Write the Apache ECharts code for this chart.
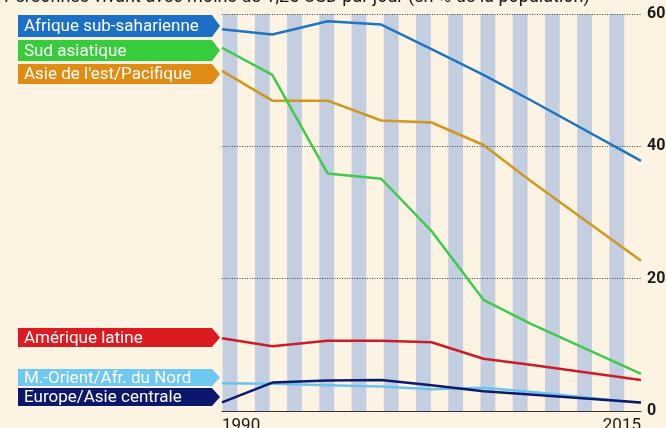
<!DOCTYPE html>
<html>
<head>
<meta charset="utf-8">
<script src="https://cdn.jsdelivr.net/npm/echarts@6.0.0/dist/echarts.min.js"></script>
<style>
  html, body { margin: 0; padding: 0; background: #fcf3e3; }
  #chart { width: 666px; height: 428px; }
</style>
</head>
<body>
<div id="chart"></div>
<script>
// years where the lines bend
const pointYears = [1990, 1993, 1996.3, 1999.5, 2002.5, 2005.6, 2008.4, 2015];

const afrique = [57.7, 56.9, 58.9, 58.4, 54.7, 50.8, 47.0, 37.8];
const sudAsie = [54.9, 50.8, 35.9, 35.1, 27.2, 16.8, 13.2, 5.6];
const asieEst = [51.4, 46.9, 46.9, 43.9, 43.6, 40.2, 34.8, 22.7];
const amerique = [11.0, 9.8, 10.6, 10.6, 10.4, 7.9, 7.0, 4.7];
const moyenOrient = [4.2, 4.1, 3.9, 3.7, 3.3, 3.5, 2.9, 1.2];
const europe = [1.3, 4.3, 4.6, 4.7, 3.9, 3.0, 2.5, 1.3];

// background year bands (one every other year)
const bandYears = ['1990', '1991', '1992', '1993', '1994', '1995', '1996', '1997', '1998',
  '1999', '2000', '2001', '2002', '2003', '2004', '2005', '2006', '2007', '2008', '2009',
  '2010', '2011', '2012', '2013', '2014', '2015'];
const bands = [60, '-', 60, '-', 60, '-', 60, '-', 60, '-', 60, '-', 60, '-',
  60, '-', 60, '-', 60, '-', 60, '-', 60, '-', 60, '-'];

const xTicks = [1990, 2015];

const chart = echarts.init(document.getElementById('chart'));

const pairs = vals => pointYears.map((y, i) => [y, vals[i]]);

const lineSeries = (name, vals, color) => ({
  name: name,
  type: 'line',
  data: pairs(vals),
  symbol: 'none',
  z: 3,
  lineStyle: { color: color, width: 2.5 },
  itemStyle: { color: color }
});

// tags on the left
const tags = [
  { text: 'Afrique sub-saharienne', color: '#1b6fc6', top: 15, h: 22 },
  { text: 'Sud asiatique', color: '#37cc3c', top: 40, h: 21 },
  { text: "Asie de l'est/Pacifique", color: '#e08b14', top: 64, h: 20 },
  { text: 'Amérique latine', color: '#dc1b20', top: 328, h: 19 },
  { text: 'M.-Orient/Afr. du Nord', color: '#6fc8f2', top: 369, h: 17 },
  { text: 'Europe/Asie centrale', color: '#0b176c', top: 388, h: 18 }
];

const graphics = [{
  type: 'text',
  x: 4,
  y: -12,
  style: {
    text: 'Personnes vivant avec moins de 1,25 USD par jour (en % de la population)',
    fill: '#1a1a1a',
    fontSize: 18,
    fontFamily: 'Roboto'
  }
}];

tags.forEach(t => {
  const y0 = t.top, y1 = t.top + t.h, ym = t.top + t.h / 2;
  graphics.push({
    type: 'polygon',
    shape: { points: [[18, y0], [212, y0], [220, ym], [212, y1], [18, y1]] },
    style: { fill: t.color }
  });
  graphics.push({
    type: 'text',
    x: 24,
    y: ym + 1,
    style: {
      text: t.text,
      fill: '#fff',
      fontSize: 17,
      fontFamily: 'Roboto',
      verticalAlign: 'middle'
    }
  });
});

chart.setOption({
  backgroundColor: '#fcf3e3',
  animation: false,
  grid: { left: 222, right: 25, top: 14, bottom: 17, outerBoundsMode: 'none' },
  xAxis: [{
    type: 'value',
    min: 1990,
    max: 2015,
    z: 4,
    axisLine: { show: true, onZero: false, lineStyle: { color: '#333', width: 1 } },
    axisTick: { show: false },
    splitLine: { show: false },
    axisLabel: {
      customValues: xTicks,
      alignMinLabel: 'left',
      alignMaxLabel: 'right',
      margin: 6,
      fontSize: 17,
      fontFamily: 'Roboto',
      color: '#1a1a1a',
      formatter: v => String(v)
    }
  }, {
    type: 'category',
    data: bandYears,
    show: false,
    boundaryGap: true
  }],
  yAxis: {
    type: 'value',
    position: 'right',
    min: 0,
    max: 60,
    interval: 20,
    z: 1,
    axisLine: { show: false },
    axisTick: { show: false },
    splitLine: { showMinLine: false, lineStyle: { color: '#444', type: [1, 1.5], width: 1 } },
    axisLabel: {
      margin: 6,
      fontSize: 16,
      fontWeight: 'bold',
      fontFamily: 'Roboto',
      color: '#1a1a1a'
    }
  },
  graphic: graphics,
  series: [
    {
      type: 'bar',
      xAxisIndex: 1,
      data: bands,
      barWidth: '92%',
      silent: true,
      z: 0,
      itemStyle: { color: '#c3cee0' }
    },
    lineSeries('Afrique sub-saharienne', afrique, '#1f74c4'),
    lineSeries("Asie de l'est/Pacifique", asieEst, '#d2971e'),
    lineSeries('Sud asiatique', sudAsie, '#3fca4e'),
    lineSeries('Amérique latine', amerique, '#c91d2a'),
    lineSeries('M.-Orient/Afr. du Nord', moyenOrient, '#6cc3ef'),
    lineSeries('Europe/Asie centrale', europe, '#0d1a68')
  ]
});
</script>
</body>
</html>
